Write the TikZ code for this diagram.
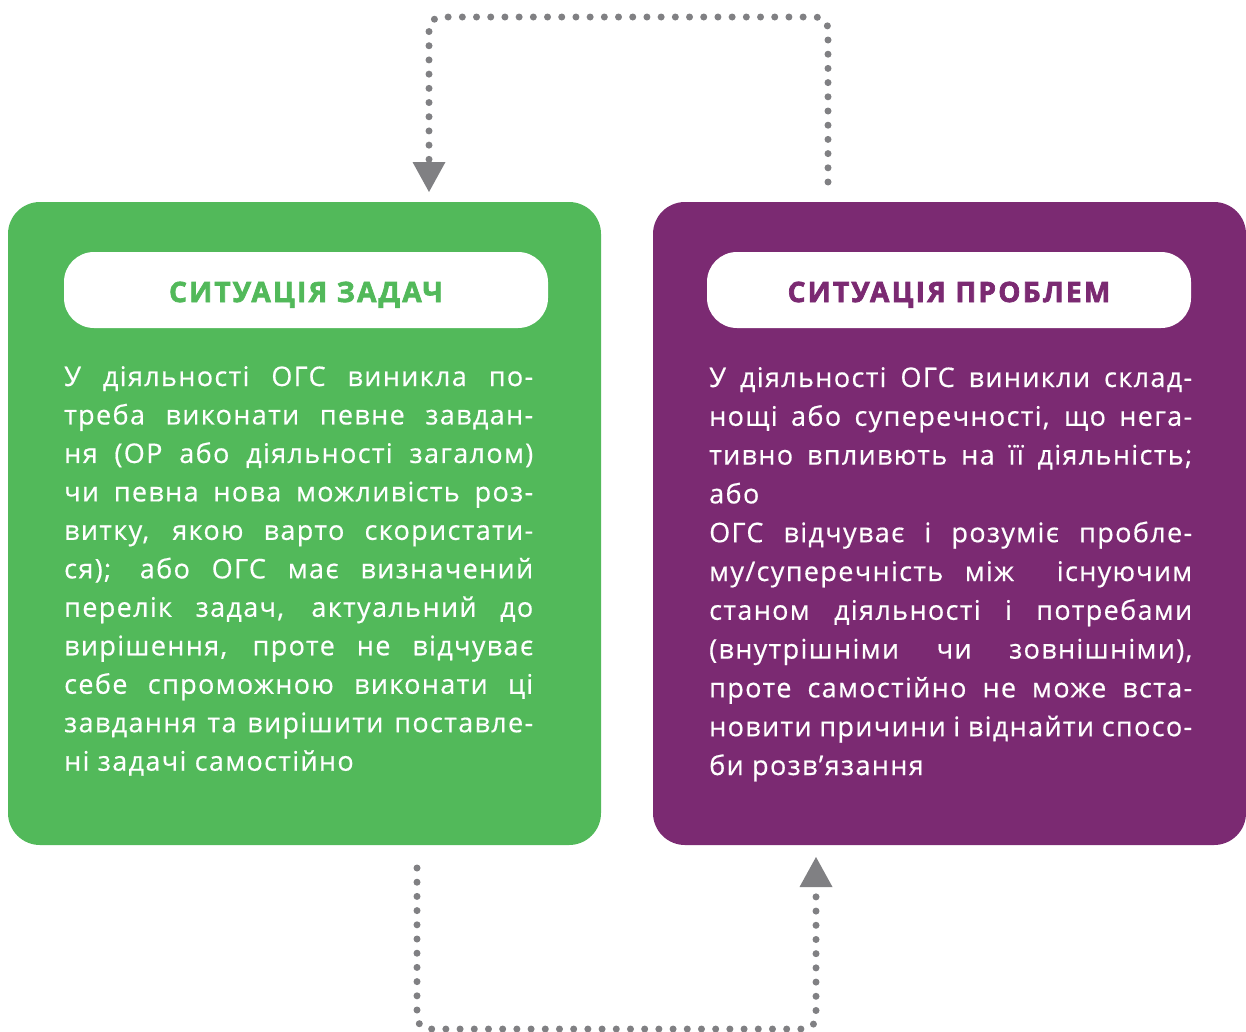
\documentclass[tikz,border=0pt]{standalone}
\usepackage{fontspec}
\setmainfont[LetterSpace=5, FakeBold=0.5]{Open Sans}
\newfontfamily\headfam[LetterSpace=8, BoldFeatures={FakeBold=2.5}]{Open Sans}
\usetikzlibrary{arrows.meta}
\definecolor{ggreen}{RGB}{82,185,90}
\definecolor{gpurple}{RGB}{123,42,114}
\definecolor{ggray}{RGB}{128,128,131}
\newcommand\bodyfont{\fontsize{27pt}{38pt}\selectfont}
\newcommand\headfont{\headfam\fontsize{28pt}{34pt}\selectfont\bfseries}
\newcommand\jline[1]{\hbox to\hsize{#1}}
\newcommand\lline[1]{\hbox to\hsize{#1\hfil}}
\begin{document}
\begin{tikzpicture}[x=1pt,y=-1pt,
  box/.style={rounded corners=32pt, minimum width=593pt, minimum height=643pt, inner sep=0pt},
  pill/.style={fill=white, rounded corners=30pt, minimum width=484pt, minimum height=76pt, inner sep=0pt},
  headtxt/.style={font=\headfont, inner sep=0pt, anchor=base},
  bodytxt/.style={inner sep=0pt, anchor=base west, text=white, font=\bodyfont},
  dotline/.style={draw=ggray, line width=7pt, line cap=round, dash pattern=on 0pt off 14.2pt, rounded corners=12pt},
  tipend/.style={-{Triangle[length=30pt,width=33pt,line width=0pt]}}
]
\useasboundingbox (0,0) rectangle (1246,1031);

\node[box, fill=ggreen] (gbox) at (304.5,523.5) {};
\node[box, fill=gpurple] (pbox) at (949.5,523.5) {};
\node[pill] (gpill) at (306,290) {};
\node[pill] (ppill) at (949,290) {};
\node[headtxt, text=ggreen] (gtitle) at (306,302) {СИТУАЦІЯ ЗАДАЧ};
\node[headtxt, text=gpurple] (ptitle) at (949,302) {СИТУАЦІЯ ПРОБЛЕМ};

\node[bodytxt] (gtext) at (64,386) {\vtop{\hsize=469pt\baselineskip=38.47pt
\jline{У діяльності ОГС виникла по-}
\jline{треба виконати певне завдан-}
\jline{ня (ОР або діяльності загалом)}
\jline{чи певна нова можливість роз-}
\jline{витку, якою варто скористати-}
\jline{ся); або ОГС має визначений}
\jline{перелік задач, актуальний до}
\jline{вирішення, проте не відчуває}
\jline{себе спроможною виконати ці}
\jline{завдання та вирішити поставле-}
\lline{ні задачі самостійно}}};

\node[bodytxt] (ptext) at (709,387) {\vtop{\hsize=483pt\baselineskip=38.8pt
\jline{У діяльності ОГС виникли склад-}
\jline{нощі або суперечності, що нега-}
\jline{тивно впливють на її діяльність;}
\lline{або}
\jline{ОГС відчуває і розуміє пробле-}
\jline{му/суперечність між \ існуючим}
\jline{станом діяльності і потребами}
\jline{(внутрішніми чи зовнішніми),}
\jline{проте самостійно не може вста-}
\jline{новити причини і віднайти спосо-}
\lline{би розв’язання}}};

\coordinate (a1) at (828,182);
\coordinate (a1t) at (429,192);
\draw[dotline, tipend] (a1) -- (828,17) -- (429,17) -- (a1t);
\coordinate (b1) at (417,868);
\coordinate (b1t) at (816,857);
\draw[dotline, tipend] (b1) -- (417,1029) -- (816,1029) -- (b1t);
\end{tikzpicture}
\end{document}
